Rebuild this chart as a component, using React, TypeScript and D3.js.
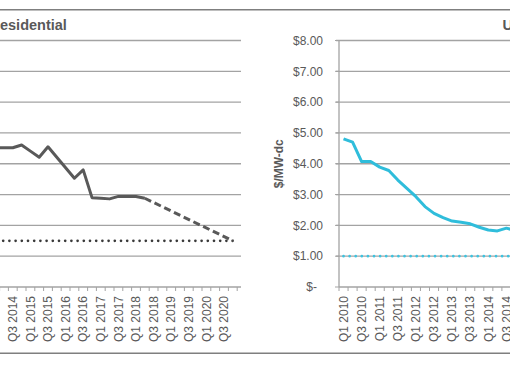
import { useEffect, useRef } from "react";
import * as d3 from "d3";

// categories
const years = [2010, 2011, 2012, 2013, 2014, 2015, 2016, 2017, 2018, 2019, 2020];
const qNames = ["Q1", "Q2", "Q3", "Q4"];
const quarters = years.flatMap((y) => qNames.map((q) => `${q} ${y}`));
const yTicks = [0, 1, 2, 3, 4, 5, 6, 7, 8];

// Residential (left panel, $/W-dc)
const resActualQ = [
  "Q1 2014", "Q2 2014", "Q3 2014", "Q4 2014", "Q1 2015", "Q2 2015",
  "Q3 2015", "Q4 2015", "Q1 2016", "Q2 2016", "Q3 2016", "Q4 2016",
  "Q1 2017", "Q2 2017", "Q3 2017", "Q4 2017", "Q1 2018", "Q2 2018",
];
const resActualV = [
  4.52, 4.52, 4.52, 4.61, 4.41, 4.21, 4.55, 4.21, 3.87, 3.53, 3.8, 2.9,
  2.88, 2.86, 2.94, 2.94, 2.94, 2.88,
];
const resForecastQ = ["Q2 2018", "Q4 2020"];
const resForecastV = [2.88, 1.5];
const resTargetQ = ["Q1 2010", "Q4 2020"];
const resTargetV = [1.5, 1.5];

// Utility (right panel)
const utilQ = [
  "Q1 2010", "Q2 2010", "Q3 2010", "Q4 2010", "Q1 2011", "Q2 2011",
  "Q3 2011", "Q4 2011", "Q1 2012", "Q2 2012", "Q3 2012", "Q4 2012",
  "Q1 2013", "Q2 2013", "Q3 2013", "Q4 2013", "Q1 2014", "Q2 2014",
  "Q3 2014", "Q4 2014",
];
const utilV = [
  4.81, 4.7, 4.07, 4.07, 3.89, 3.78, 3.47, 3.2, 2.93, 2.61, 2.39, 2.25,
  2.14, 2.1, 2.05, 1.94, 1.85, 1.82, 1.91, 1.83,
];
const utilTargetQ = ["Q1 2010", "Q4 2020"];
const utilTargetV = [1.0, 1.0];

const FONT = "'Liberation Sans', Arial, sans-serif";
const TEXT = "#595959";
const GRID = "#a3a3a3";

export default function App() {
  const ref = useRef<SVGSVGElement>(null);

  useEffect(() => {
    if (!ref.current) return;
    const width = 510;
    const height = 365;
    const svg = d3.select(ref.current);
    svg.selectAll("*").remove();
    svg.attr("width", width).attr("height", height);

    const y = d3.scaleLinear().domain([0, 8]).range([287, 40.5]);

    const drawPanel = (
      x: d3.ScaleBand<string>,
      gridLeft: number,
      gridRight: number
    ) => {
      const g = svg.append("g");
      g.selectAll(".grid")
        .data(yTicks.slice(1))
        .enter()
        .append("line")
        .attr("x1", gridLeft)
        .attr("x2", gridRight)
        .attr("y1", (d: number) => y(d))
        .attr("y2", (d: number) => y(d))
        .attr("stroke", GRID)
        .attr("stroke-width", 1.3);

      // x axis line + quarter ticks
      g.append("line")
        .attr("x1", x.range()[0])
        .attr("x2", gridRight)
        .attr("y1", y(0))
        .attr("y2", y(0))
        .attr("stroke", GRID)
        .attr("stroke-width", 1.3);
      const bounds = quarters.map((q) => x(q) as number).concat([x.range()[1]]);
      g.selectAll(".xtick")
        .data(bounds)
        .enter()
        .append("line")
        .attr("x1", (d: number) => d)
        .attr("x2", (d: number) => d)
        .attr("y1", y(0))
        .attr("y2", y(0) + 4)
        .attr("stroke", GRID)
        .attr("stroke-width", 1);

      // labels on Q1 and Q3, only those that reach into the view
      const cx = (q: string) => (x(q) as number) + x.bandwidth() / 2;
      g.selectAll(".xlabel")
        .data(
          quarters.filter(
            (q) =>
              (q.startsWith("Q1") || q.startsWith("Q3")) &&
              cx(q) > 2 &&
              cx(q) < width + 2
          )
        )
        .enter()
        .append("text")
        .attr("transform", (d: string) => `translate(${cx(d)},${y(0) + 9}) rotate(-90)`)
        .attr("text-anchor", "end")
        .attr("dy", "0.35em")
        .style("font-family", FONT)
        .style("font-size", "12px")
        .attr("fill", TEXT)
        .text((d: string) => d);
      return g;
    };

    const resX = d3.scaleBand<string>().domain(quarters).range([-150, 237.2]);
    const utilX = d3
      .scaleBand<string>()
      .domain(quarters)
      .range([339, 339 + 44 * 9.05]);

    const resG = drawPanel(resX, -150, 241);
    const utilG = drawPanel(utilX, 336, 339 + 44 * 9.05);

    // utility y axis
    utilG
      .append("line")
      .attr("x1", 339)
      .attr("x2", 339)
      .attr("y1", y(8))
      .attr("y2", y(0))
      .attr("stroke", GRID)
      .attr("stroke-width", 1.3);
    utilG
      .selectAll(".ytick")
      .data(yTicks)
      .enter()
      .append("line")
      .attr("x1", 335)
      .attr("x2", 339)
      .attr("y1", (d: number) => y(d))
      .attr("y2", (d: number) => y(d))
      .attr("stroke", GRID);
    utilG
      .selectAll(".ylabel")
      .data(yTicks)
      .enter()
      .append("text")
      .attr("x", (d: number) => (d === 0 ? 317 : 323))
      .attr("y", (d: number) => y(d))
      .attr("dy", "0.35em")
      .attr("text-anchor", "end")
      .style("font-family", FONT)
      .style("font-size", "12px")
      .attr("fill", TEXT)
      .text((d: number) => (d === 0 ? "$-" : `$${d.toFixed(2)}`));
    utilG
      .append("text")
      .attr("transform", `translate(279,${y(4)}) rotate(-90)`)
      .attr("text-anchor", "middle")
      .attr("dy", "0.35em")
      .style("font-family", FONT)
      .style("font-size", "12px")
      .style("font-weight", "bold")
      .attr("fill", TEXT)
      .text("$/MW-dc");

    const mkLine = (x: d3.ScaleBand<string>) =>
      d3
        .line<[string, number]>()
        .x((d) => (x(d[0]) as number) + x.bandwidth() / 2)
        .y((d) => y(d[1]));

    const zip = (qs: string[], vs: number[]) =>
      qs.map((q, i) => [q, vs[i]] as [string, number]);

    // residential series
    resG
      .append("path")
      .attr("d", mkLine(resX)(zip(resTargetQ, resTargetV)))
      .attr("fill", "none")
      .attr("stroke", "#3a3a3a")
      .attr("stroke-width", 2.7)
      .attr("stroke-linecap", "round")
      .attr("stroke-dasharray", "0 6.2");
    resG
      .append("path")
      .attr("d", mkLine(resX)(zip(resForecastQ, resForecastV)))
      .attr("fill", "none")
      .attr("stroke", "#595959")
      .attr("stroke-width", 3)
      .attr("stroke-dasharray", "7 3.8");
    resG
      .append("path")
      .attr("d", mkLine(resX)(zip(resActualQ, resActualV)))
      .attr("fill", "none")
      .attr("stroke", "#595959")
      .attr("stroke-width", 3)
      .attr("stroke-linejoin", "round");

    // utility series
    utilG
      .append("path")
      .attr("d", mkLine(utilX)(zip(utilTargetQ, utilTargetV)))
      .attr("fill", "none")
      .attr("stroke", "#3cc3e0")
      .attr("stroke-width", 2.7)
      .attr("stroke-linecap", "round")
      .attr("stroke-dasharray", "0 6.1");
    utilG
      .append("path")
      .attr("d", mkLine(utilX)(zip(utilQ, utilV)))
      .attr("fill", "none")
      .attr("stroke", "#2fbddb")
      .attr("stroke-width", 3)
      .attr("stroke-linejoin", "round");

    // panel titles
    svg
      .append("text")
      .attr("x", -10.5)
      .attr("y", 29.5)
      .style("font-family", FONT)
      .style("font-size", "14.5px")
      .style("font-weight", "bold")
      .attr("fill", TEXT)
      .text("Residential");
    svg
      .append("text")
      .attr("x", 502.5)
      .attr("y", 29.5)
      .style("font-family", FONT)
      .style("font-size", "14.5px")
      .style("font-weight", "bold")
      .attr("fill", TEXT)
      .text("Utility");

    // outer frame
    svg
      .selectAll(".frame")
      .data([9.8, 353.3])
      .enter()
      .append("line")
      .attr("x1", 0)
      .attr("x2", width)
      .attr("y1", (d: number) => d)
      .attr("y2", (d: number) => d)
      .attr("stroke", "#7f7f7f")
      .attr("stroke-width", 1.6);
  }, []);

  return (
    <svg
      ref={ref}
      style={{ position: "absolute", left: 0, top: 0, background: "#fff" }}
    />
  );
}
